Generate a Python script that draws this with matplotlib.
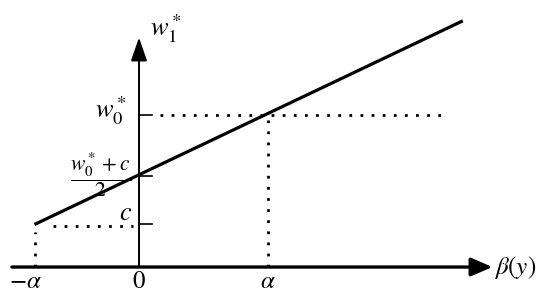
import matplotlib
matplotlib.use('Agg')
import matplotlib.pyplot as plt

plt.rcParams['mathtext.fontset'] = 'stix'
plt.rcParams['font.family'] = 'STIXGeneral'

# x in units of alpha, y in units of w0*
line_x = [-0.81, 2.51]
line_y = [0.28, 1.62]

alpha = 1.0
w0 = 1.0
half = 0.60   # (w0* + c) / 2 where the line crosses the axis
c = 0.28

upper_dot_x = [0.16, 2.36]
lower_dot_x = [-0.67, -0.05]
left_x = -0.81

tick_vals = [c, half, w0]
tick_labels = [r'$c$', r'$\dfrac{w_0^*+c}{2}$', r'$w_0^*$']
x_labels = [r'$-\alpha$', r'$0$', r'$\alpha$']
x_label_pos = [-0.88, 0.0, alpha]


fig = plt.figure(figsize=(5.5, 3), dpi=100)
ax = fig.add_axes([0, 0, 1, 1])
ax.set_xlim(-1.0775, 3.186)
ax.set_ylim(-0.217, 1.757)
ax.axis('off')

# axes with arrows
ax.annotate('', xy=(2.74, 0), xytext=(-0.985, 0),
            arrowprops=dict(arrowstyle='-|>,head_length=0.65,head_width=0.28',
                            lw=2.4, color='black', mutation_scale=20,
                            shrinkA=0, shrinkB=0))
ax.annotate('', xy=(0, 1.51), xytext=(0, 0),
            arrowprops=dict(arrowstyle='-|>,head_length=0.72,head_width=0.25',
                            lw=1.4, color='black', mutation_scale=20,
                            shrinkA=0, shrinkB=0))

# main line
ax.plot(line_x, line_y, color='black', lw=2.3, solid_capstyle='butt')

# ticks on the y axis
for v in tick_vals:
    ax.plot([0, 0.1], [v, v], color='black', lw=1.2)

# dotted guides
dot = dict(color='black', lw=2.0, linestyle=(0, (1, 3)), dash_capstyle='butt')
ax.plot(upper_dot_x, [w0, w0], **dot)
ax.plot([alpha, alpha], [0, 0.97], **dot)
ax.plot(lower_dot_x, [c - 0.01, c - 0.01], **dot)
ax.plot([left_x, left_x], [0, 0.23], **dot)

# labels
for lab, xp in zip(x_labels, x_label_pos):
    ax.text(xp, -0.02, lab, fontsize=18, ha='center', va='top')

ax.text(-0.22, w0 + 0.03, tick_labels[2], fontsize=19, ha='center', va='center')
ax.text(-0.30, half + 0.01, tick_labels[1], fontsize=15.5, ha='center', va='center')
ax.text(-0.10, c + 0.07, tick_labels[0], fontsize=19, ha='center', va='center')
ax.text(0.21, 1.57, r'$w_1^*$', fontsize=19, ha='center', va='center')
ax.text(2.755, 0.0, r'$\beta(y)$', fontsize=18, ha='left', va='center')

fig.savefig('out.png', dpi=100)
